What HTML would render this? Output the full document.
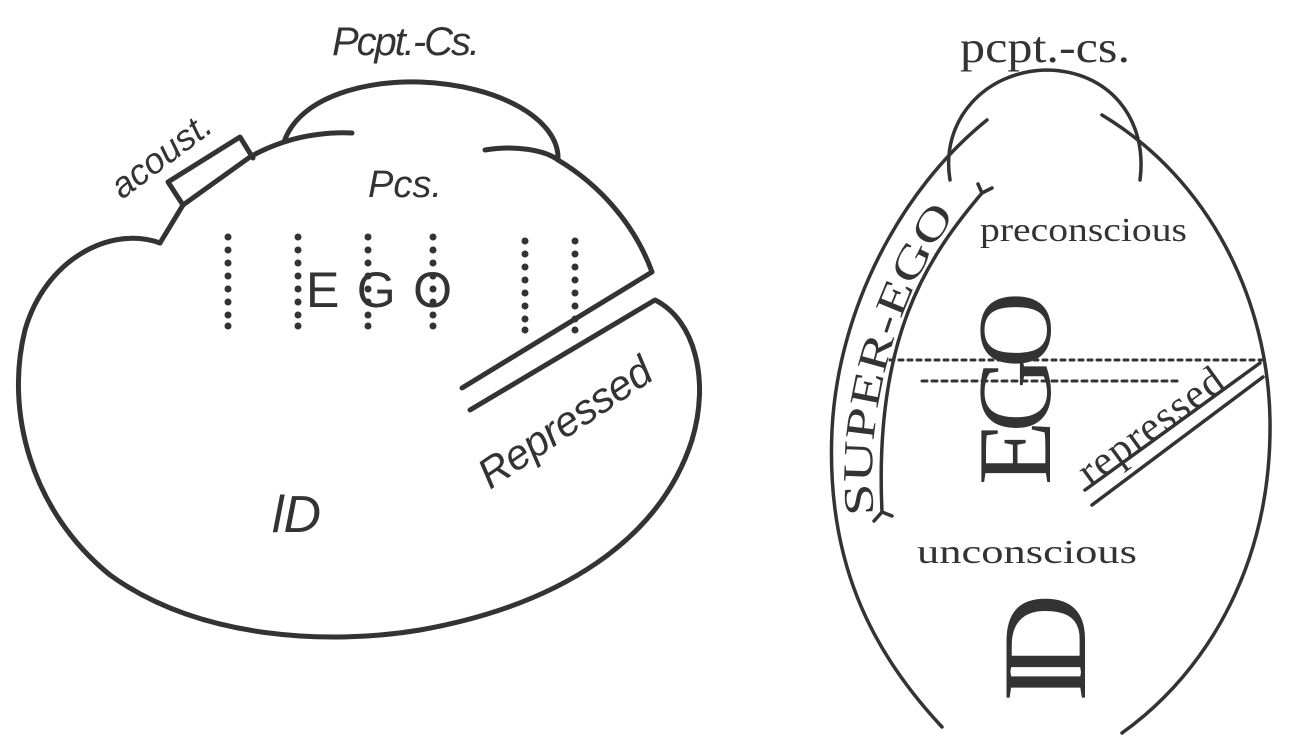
<!DOCTYPE html>
<html><head><meta charset="utf-8"><style>
html,body{margin:0;padding:0;background:#fff;}
svg{display:block}
.it{font-family:"Liberation Sans",sans-serif;font-style:italic;fill:#333}
.sf{font-family:"Liberation Serif",serif;fill:#333}
</style></head><body>
<svg width="1298" height="747" viewBox="0 0 1298 747" xmlns="http://www.w3.org/2000/svg">
<rect width="1298" height="747" fill="#fff"/>
<defs><path id="sp" d="M874,515 C864,420 892,300 962,205"/></defs>
<g fill="none" stroke="#333" stroke-width="5" stroke-linecap="round" stroke-linejoin="round">
  <path d="M284,142 C300,95 370,80 420,82 C500,85 560,120 558,160"/>
  <path d="M284,142 C305,135 330,132 352,133"/>
  <path d="M485,150 C515,145 545,150 558,160"/>
  <path d="M160,243 L183,205 L250,157 C262,150 272,146 284,142"/>
  <path d="M558,160 C600,185 635,225 652,272 L462,388"/>
  <path d="M183,205 L168,182 L240,137 L253,158"/>
  <path d="M160,243 C110,225 45,260 25,330 C5,410 30,510 110,575 C200,640 330,645 420,630 C560,605 660,540 692,440 C710,380 695,320 655,300 L470,410"/>
</g>
<g fill="#333">
  <g id="c1"><circle cx="228" cy="237" r="3.5"/><circle cx="228" cy="250" r="3.5"/><circle cx="228" cy="263" r="3.5"/><circle cx="228" cy="276" r="3.5"/><circle cx="228" cy="289" r="3.5"/><circle cx="228" cy="302" r="3.5"/><circle cx="228" cy="315" r="3.5"/><circle cx="228" cy="326" r="3.5"/></g>
  <use href="#c1" x="70"/><use href="#c1" x="140"/><use href="#c1" x="205"/><use href="#c1" x="297" y="4"/><use href="#c1" x="347" y="4"/>
</g>
<text class="it" x="332" y="55" font-size="40" textLength="148">Pcpt.-Cs.</text>
<text class="it" x="368" y="197" font-size="38">Pcs.</text>
<text x="306" y="307" font-size="50" font-family="Liberation Sans,sans-serif" fill="#333" textLength="146">E G O</text>
<text class="it" font-size="36" transform="translate(122,200) rotate(-37)">acoust.</text>
<text class="it" font-size="42" transform="translate(490,490) rotate(-34)" textLength="200">Repressed</text>
<text class="it" x="272" y="532" font-size="52">lD</text>

<g fill="none" stroke="#333" stroke-width="3.5" stroke-linecap="round">
  <path d="M950,180 C940,120 985,72 1045,70 C1110,70 1148,120 1140,180"/>
  <path d="M987,120 C900,190 838,310 832,430 C826,560 870,650 942,727"/>
  <path d="M1102,115 C1210,180 1268,300 1270,420 C1272,560 1210,670 1122,733"/>
  <path d="M982,193 C925,260 874,340 882,512"/>
  <path d="M982,193 L978,184 M982,193 L992,188"/>
  <path d="M882,512 L874,521 M882,512 L892,516"/>
  <path d="M1085,490 L1260,363"/>
  <path d="M1092,505 L1263,377"/>
  <path d="M890,360 L1262,360" stroke-dasharray="4 5" stroke-width="3"/>
  <path d="M922,381 L1182,381" stroke-dasharray="5 5" stroke-width="3"/>
</g>
<text class="sf" x="960" y="62" font-size="44" textLength="170" lengthAdjust="spacingAndGlyphs">pcpt.-cs.</text>
<text class="sf" x="980" y="241" font-size="34" textLength="207" lengthAdjust="spacingAndGlyphs">preconscious</text>
<text class="sf" x="917" y="563" font-size="34" textLength="220" lengthAdjust="spacingAndGlyphs">unconscious</text>
<text class="sf" font-size="42"><textPath href="#sp" textLength="318" lengthAdjust="spacingAndGlyphs">SUPER-EGO</textPath></text>
<text class="sf" font-size="105" transform="translate(1050,485) rotate(-90)" textLength="193">EGO</text>
<text class="sf" font-size="42" transform="translate(1090,487) rotate(-36)" textLength="170">repressed</text>
<text class="sf" font-size="120" transform="translate(1085,702) rotate(-90)" textLength="108">ID</text>
</svg>
</body></html>
